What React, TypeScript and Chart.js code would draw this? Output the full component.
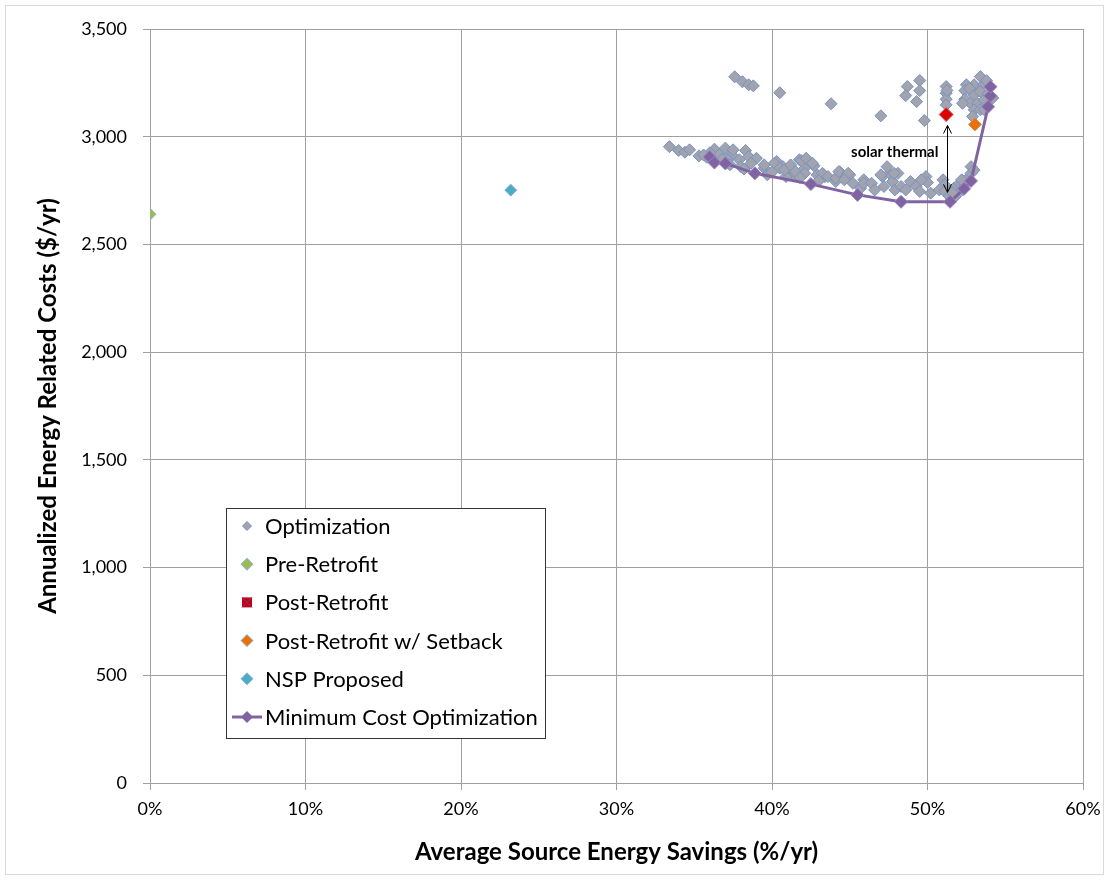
import React, { useEffect, useRef } from 'react';
import { Chart, registerables } from 'chart.js';
Chart.register(...registerables);

// ---------- data ----------
const X_TICK_MIN = 0;
const X_TICK_MAX = 60;
const X_TICK_STEP = 10;
const Y_TICK_MIN = 0;
const Y_TICK_MAX = 3500;
const Y_TICK_STEP = 500;

const seriesLabels = [
  'Optimization',
  'Pre-Retrofit',
  'Post-Retrofit',
  'Post-Retrofit w/ Setback',
  'NSP Proposed',
  'Minimum Cost Optimization',
];

// Optimization runs: [source energy savings %, annualized cost $/yr]
const optimizationPoints: [number, number][] = [
  [37.6, 3278], [38.1, 3255], [38.5, 3241], [38.8, 3236], [40.5, 3204], [43.8, 3153],
  [47.0, 3097], [48.7, 3233], [49.5, 3261], [49.5, 3214], [48.6, 3191], [49.3, 3163], [49.8, 3075],
  [51.2, 3233], [51.2, 3202], [51.2, 3174], [51.2, 3148], [51.25, 3215],
  [53.4, 3279], [53.0, 3241], [53.6, 3241], [52.5, 3241], [52.4, 3214], [53.0, 3194], [53.4, 3210],
  [52.4, 3174], [52.75, 3155], [53.2, 3155], [52.25, 3155], [53.0, 3125], [53.4, 3125], [52.9, 3094],
  [53.65, 3171], [53.65, 3125], [53.8, 3260], [53.9, 3200], [54.2, 3180], [52.7, 3225],
  [33.4, 2954], [34.0, 2936], [34.4, 2928], [34.7, 2939], [35.3, 2911], [35.8, 2905], [36.3, 2942],
  [36.6, 2916], [37.0, 2947], [37.4, 2916], [37.5, 2939], [37.9, 2893], [38.3, 2936], [38.5, 2908],
  [39.0, 2900], [38.65, 2877], [39.5, 2854], [40.3, 2885], [40.7, 2861], [41.1, 2846], [41.76, 2893],
  [42.25, 2893], [42.7, 2865], [42.1, 2854], [41.4, 2823], [43.4, 2815], [44.4, 2834], [45.0, 2823],
  [44.1, 2792], [45.9, 2800], [39.7, 2823], [40.9, 2815], [38.0, 2861], [37.15, 2893],
  [39.5, 2869], [40.15, 2877], [40.5, 2854], [40.8, 2846], [41.2, 2869], [41.9, 2889], [42.2, 2900],
  [42.6, 2877], [41.5, 2838], [42.1, 2830], [42.9, 2823], [43.25, 2830], [43.6, 2815], [44.1, 2808],
  [44.3, 2838], [44.9, 2830], [44.65, 2800], [45.2, 2784], [45.7, 2761], [45.9, 2784],
  [46.4, 2784], [47.1, 2815], [47.55, 2830], [48.1, 2830], [47.2, 2769], [47.75, 2792], [47.9, 2753],
  [48.3, 2769], [48.6, 2753], [48.9, 2792], [49.26, 2769], [49.5, 2746], [49.9, 2815], [50.0, 2787],
  [50.2, 2738], [49.6, 2800], [46.6, 2753], [51.0, 2800], [51.1, 2777], [50.76, 2753],
  [51.1, 2746], [51.4, 2723], [51.7, 2761], [52.05, 2784], [52.25, 2753], [52.6, 2808], [52.8, 2830],
  [51.8, 2723], [52.4, 2777], [52.8, 2861], [53.0, 2845], [52.2, 2800], [51.6, 2740],
  [37.3, 2870], [38.2, 2850], [36.8, 2895], [36.0, 2925], [35.6, 2915], [40.0, 2835], [43.0, 2795],
  [41.8, 2810], [47.4, 2861], [47.0, 2823], [47.85, 2830],
];

const preRetrofitPoint: [number, number] = [0, 2640];
const postRetrofitPoint: [number, number] = [51.2, 3103];
const postRetrofitSetbackPoint: [number, number] = [53.05, 3057];
const nspProposedPoint: [number, number] = [23.2, 2752];

const minimumCostX = [36.0, 36.3, 37.0, 38.9, 42.5, 45.5, 48.3, 51.45, 52.35, 52.8, 53.9, 54.05, 54.05];
const minimumCostY = [2906, 2880, 2876, 2830, 2780, 2730, 2698, 2698, 2758, 2795, 3139, 3190, 3232];

// annotation (data coordinates)
const annotationText = 'solar thermal';
const annotationTextAt: [number, number] = [50.7, 2930];
const arrowX = 51.27;
const arrowFromY = 3052;
const arrowToY = 2742;

const xTitle = 'Average Source Energy Savings (%/yr)';
const yTitle = 'Annualized Energy Related Costs ($/yr)';

// ---------- style ----------
const FONT = 'Lato, "Open Sans", sans-serif';
const GRID = '#a0a0a0';
const C_GRAY = '#a2a3ad';
const C_GRAY_B = '#7393c8';
const C_GREEN = '#9bbb59';
const C_RED = '#dd0000';
const C_ORANGE = '#e8710a';
const C_CYAN = '#4bacc6';
const C_PURPLE = '#8064a2';

function diamond(ctx: CanvasRenderingContext2D, x: number, y: number, r: number, fill: string, stroke?: string) {
  ctx.beginPath();
  ctx.moveTo(x - r, y);
  ctx.lineTo(x, y - r);
  ctx.lineTo(x + r, y);
  ctx.lineTo(x, y + r);
  ctx.closePath();
  ctx.fillStyle = fill;
  ctx.fill();
  if (stroke) {
    ctx.strokeStyle = stroke;
    ctx.lineWidth = 1;
    ctx.stroke();
  }
}

const decorPlugin = {
  id: 'decor',
  beforeDraw(chart: any) {
    const ctx = chart.ctx as CanvasRenderingContext2D;
    ctx.save();
    ctx.fillStyle = '#ffffff';
    ctx.fillRect(0, 0, chart.width, chart.height);
    ctx.strokeStyle = '#d9d9d9';
    ctx.lineWidth = 1;
    ctx.strokeRect(5.5, 5.5, chart.width - 11, chart.height - 11);
    ctx.restore();
  },
  afterDraw(chart: any) {
    const ctx = chart.ctx as CanvasRenderingContext2D;
    const xs = chart.scales.x;
    const ys = chart.scales.y;
    const ca = chart.chartArea;
    ctx.save();

    // annotation text
    ctx.fillStyle = '#000';
    ctx.font = `bold 15px ${FONT}`;
    ctx.textAlign = 'right';
    ctx.textBaseline = 'middle';
    ctx.fillText(annotationText, xs.getPixelForValue(annotationTextAt[0]), ys.getPixelForValue(annotationTextAt[1]));

    // double-headed arrow
    const ax = Math.round(xs.getPixelForValue(arrowX)) + 0.5;
    const ay1 = ys.getPixelForValue(arrowFromY);
    const ay2 = ys.getPixelForValue(arrowToY);
    ctx.strokeStyle = '#000';
    ctx.lineWidth = 1;
    ctx.beginPath();
    ctx.moveTo(ax, ay1);
    ctx.lineTo(ax, ay2);
    ctx.moveTo(ax - 4, ay1 + 8);
    ctx.lineTo(ax, ay1);
    ctx.lineTo(ax + 4, ay1 + 8);
    ctx.moveTo(ax - 4, ay2 - 8);
    ctx.lineTo(ax, ay2);
    ctx.lineTo(ax + 4, ay2 - 8);
    ctx.stroke();

    // axis titles
    ctx.fillStyle = '#000';
    ctx.font = `bold 24px ${FONT}`;
    ctx.textAlign = 'center';
    ctx.textBaseline = 'middle';
    ctx.fillText(xTitle, (ca.left + ca.right) / 2, 852);
    ctx.save();
    ctx.translate(48, (ca.top + ca.bottom) / 2);
    ctx.rotate(-Math.PI / 2);
    ctx.fillText(yTitle, 0, 0);
    ctx.restore();

    // legend
    const L = 226, T = 508, R = 545, B = 738;
    ctx.fillStyle = '#ffffff';
    ctx.fillRect(L, T, R - L, B - T);
    ctx.strokeStyle = '#333';
    ctx.lineWidth = 1;
    ctx.strokeRect(L + 0.5, T + 0.5, R - L, B - T);
    const mx = 247;
    const tx = 265;
    const y0 = 526;
    const step = 38.2;
    ctx.font = `22px ${FONT}`;
    ctx.textAlign = 'left';
    ctx.textBaseline = 'middle';
    seriesLabels.forEach((label, i) => {
      const y = y0 + i * step;
      if (i === 0) diamond(ctx, mx, y, 4.5, C_GRAY, C_GRAY_B);
      if (i === 1) diamond(ctx, mx, y, 6, C_GREEN, '#8fb0d0');
      if (i === 2) {
        ctx.fillStyle = '#c00010';
        ctx.fillRect(mx - 5, y - 5, 10, 10);
        ctx.strokeStyle = '#7a3a8a';
        ctx.lineWidth = 1;
        ctx.beginPath();
        ctx.moveTo(mx - 5, y - 5);
        ctx.lineTo(mx + 5, y + 5);
        ctx.moveTo(mx + 5, y - 5);
        ctx.lineTo(mx - 5, y + 5);
        ctx.stroke();
      }
      if (i === 3) diamond(ctx, mx, y, 6, C_ORANGE, '#8fb0d0');
      if (i === 4) diamond(ctx, mx, y, 6, C_CYAN, '#8fb0d0');
      if (i === 5) {
        ctx.strokeStyle = C_PURPLE;
        ctx.lineWidth = 3;
        ctx.beginPath();
        ctx.moveTo(mx - 15, y);
        ctx.lineTo(mx + 15, y);
        ctx.stroke();
        diamond(ctx, mx, y, 6, C_PURPLE);
      }
      ctx.fillStyle = '#000';
      ctx.fillText(label, tx, y + 1);
    });

    ctx.restore();
  },
};

export default function App() {
  const ref = useRef<HTMLCanvasElement | null>(null);

  useEffect(() => {
    if (!ref.current) return;
    const pt = (p: [number, number]) => ({ x: p[0], y: p[1] });
    const chart = new Chart(ref.current, {
      type: 'scatter',
      data: {
        datasets: [
          {
            label: seriesLabels[0],
            data: optimizationPoints.map(pt),
            pointStyle: 'rectRot',
            pointRadius: 6,
            backgroundColor: C_GRAY,
            borderColor: C_GRAY_B,
            borderWidth: 1,
            order: 6,
          },
          {
            label: seriesLabels[1],
            data: [pt(preRetrofitPoint)],
            pointStyle: 'rectRot',
            pointRadius: 6,
            backgroundColor: C_GREEN,
            borderColor: '#8fb0d0',
            borderWidth: 1,
            order: 5,
          },
          {
            label: seriesLabels[2],
            data: [pt(postRetrofitPoint)],
            pointStyle: 'rectRot',
            pointRadius: 7,
            backgroundColor: C_RED,
            borderColor: '#c06060',
            borderWidth: 1,
            order: 4,
          },
          {
            label: seriesLabels[3],
            data: [pt(postRetrofitSetbackPoint)],
            pointStyle: 'rectRot',
            pointRadius: 6.5,
            backgroundColor: C_ORANGE,
            borderColor: '#d09060',
            borderWidth: 1,
            order: 3,
          },
          {
            label: seriesLabels[4],
            data: [pt(nspProposedPoint)],
            pointStyle: 'rectRot',
            pointRadius: 6,
            backgroundColor: C_CYAN,
            borderColor: '#8fb0d0',
            borderWidth: 1,
            order: 2,
          },
          {
            label: seriesLabels[5],
            type: 'line',
            data: minimumCostX.map((x, i) => ({ x, y: minimumCostY[i] })),
            showLine: true,
            borderColor: C_PURPLE,
            borderWidth: 3,
            pointStyle: 'rectRot',
            pointRadius: 6.5,
            pointBackgroundColor: C_PURPLE,
            pointBorderColor: '#9a86c0',
            pointBorderWidth: 1,
            tension: 0,
            fill: false,
            order: 1,
          } as any,
        ],
      },
      options: {
        animation: false,
        responsive: false,
        maintainAspectRatio: false,
        layout: { padding: { left: 0, top: 29, right: 26, bottom: 0 } },
        plugins: {
          legend: { display: false },
          tooltip: { enabled: false },
          title: { display: false },
        },
        scales: {
          x: {
            type: 'linear',
            min: X_TICK_MIN,
            max: X_TICK_MAX,
            ticks: {
              stepSize: X_TICK_STEP,
              callback: (v: any) => `${v}%`,
              color: '#000',
              font: { family: FONT, size: 18 },
              padding: 8,
              maxRotation: 0,
            },
            grid: { color: GRID, lineWidth: 1, tickLength: 7, tickColor: GRID },
            border: { color: GRID, width: 1 },
            afterFit: (s: any) => { s.height = 97; },
          },
          y: {
            type: 'linear',
            min: Y_TICK_MIN,
            max: Y_TICK_MAX,
            ticks: {
              stepSize: Y_TICK_STEP,
              callback: (v: any) => Number(v).toLocaleString('en-US'),
              color: '#000',
              font: { family: FONT, size: 18 },
              padding: 16,
            },
            grid: { color: GRID, lineWidth: 1, tickLength: 7, tickColor: GRID },
            border: { color: GRID, width: 1 },
            afterFit: (s: any) => { s.width = 150; },
          },
        },
      },
      plugins: [decorPlugin],
    } as any);
    return () => chart.destroy();
  }, []);

  return (
    <div style={{ position: 'fixed', left: 0, top: 0, width: 1109, height: 880, background: '#fff' }}>
      <canvas ref={ref} width={1109} height={880} style={{ display: 'block', width: 1109, height: 880 }} />
    </div>
  );
}
